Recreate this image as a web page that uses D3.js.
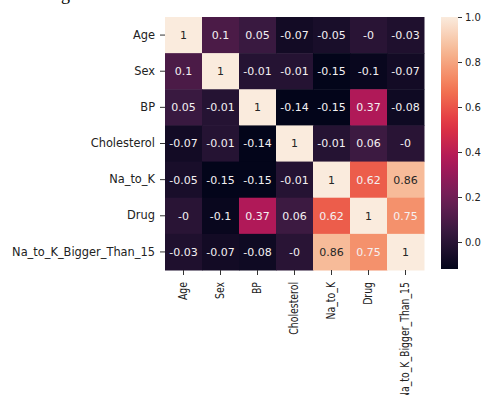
<style>body { margin: 0; }</style>
<script src="https://d3js.org/d3.v7.min.js"></script>
<svg width="486" height="395" style="display:block"></svg>
<script>
  // correlation matrix
  var labels = ["Age", "Sex", "BP", "Cholesterol", "Na_to_K", "Drug", "Na_to_K_Bigger_Than_15"];
  var rowAge = [1, 0.1, 0.05, -0.07, -0.05, -0, -0.03];
  var rowSex = [0.1, 1, -0.01, -0.01, -0.15, -0.1, -0.07];
  var rowBP = [0.05, -0.01, 1, -0.14, -0.15, 0.37, -0.08];
  var rowCholesterol = [-0.07, -0.01, -0.14, 1, -0.01, 0.06, -0];
  var rowNaToK = [-0.05, -0.15, -0.15, -0.01, 1, 0.62, 0.86];
  var rowDrug = [-0, -0.1, 0.37, 0.06, 0.62, 1, 0.75];
  var rowBigger = [-0.03, -0.07, -0.08, -0, 0.86, 0.75, 1];
  var rows = [rowAge, rowSex, rowBP, rowCholesterol, rowNaToK, rowDrug, rowBigger];
  var cbarTicks = [0, 0.2, 0.4, 0.6, 0.8, 1.0];
  var vmin = -0.12, vmax = 1;

  // seaborn "rocket" sampled
  var rocket = ["#03051a", "#35193e", "#701f57", "#ad1759", "#e13342", "#f37651", "#f6b48f", "#faebdd"];

  var svg = d3.select("svg");
  svg.append("rect").attr("width", 486).attr("height", 395).attr("fill", "#fff");

  // fragment of a caption line cut off at the top of the screenshot
  svg.append("text")
    .attr("x", 61).attr("y", 0)
    .style("font", "18px 'Liberation Serif'")
    .text("g");

  var font = "'DejaVu Sans', sans-serif";
  var cells = [];
  rows.forEach(function (r, i) {
    r.forEach(function (v, j) {
      cells.push({ row: labels[i], col: labels[j], value: v });
    });
  });

  var x = d3.scaleBand().domain(labels).range([165, 424]);
  var y = d3.scaleBand().domain(labels).range([17, 270]);
  var color = d3.scaleSequential(d3.piecewise(d3.interpolateRgb, rocket)).domain([vmin, vmax]).clamp(true);

  function fmt(v) {
    return Object.is(v, -0) ? "-0" : String(v);
  }
  function luminance(c) {
    var rgb = d3.rgb(c);
    var lin = [rgb.r, rgb.g, rgb.b].map(function (u) {
      u = u / 255;
      return u <= 0.03928 ? u / 12.92 : Math.pow((u + 0.055) / 1.055, 2.4);
    });
    return 0.2126 * lin[0] + 0.7152 * lin[1] + 0.0722 * lin[2];
  }

  var cell = svg.selectAll(".cell").data(cells).enter().append("g").attr("class", "cell");

  cell.append("rect")
    .attr("x", function (d) { return x(d.col); })
    .attr("y", function (d) { return y(d.row); })
    .attr("width", x.bandwidth() + 0.5)
    .attr("height", y.bandwidth() + 0.5)
    .attr("fill", function (d) { return color(d.value); });

  cell.append("text")
    .attr("x", function (d) { return x(d.col) + x.bandwidth() / 2; })
    .attr("y", function (d) { return y(d.row) + y.bandwidth() / 2; })
    .attr("dy", "0.36em")
    .attr("text-anchor", "middle")
    .style("font-family", font)
    .style("font-size", "11px")
    .attr("fill", function (d) { return luminance(color(d.value)) > 0.408 ? "#262626" : "#f4f0f2"; })
    .text(function (d) { return fmt(d.value); });

  // y axis labels
  var yAxis = svg.append("g")
    .attr("transform", "translate(165,0)")
    .call(d3.axisLeft(y).tickSize(5).tickPadding(5));
  yAxis.select(".domain").remove();
  yAxis.selectAll("line").attr("stroke", "#333");
  yAxis.selectAll("text")
    .attr("fill", "#222")
    .style("font-family", font)
    .style("font-size", "11.4px");

  // x axis labels, rotated
  var xAxis = svg.append("g")
    .attr("transform", "translate(0,270)")
    .call(d3.axisBottom(x).tickSize(5));
  xAxis.select(".domain").remove();
  xAxis.selectAll("line").attr("stroke", "#333");
  xAxis.selectAll("text")
    .attr("fill", "#222")
    .attr("text-anchor", "end")
    .attr("y", 0)
    .attr("dy", "0.35em")
    .attr("transform", "translate(0,12) rotate(-90) scale(0.82,1)")
    .style("font-family", font)
    .style("font-size", "11.4px");

  // colorbar
  var cb = d3.scaleLinear().domain([vmin, vmax]).range([269, 17]);
  var defs = svg.append("defs");
  var grad = defs.append("linearGradient")
    .attr("id", "cbar")
    .attr("x1", 0).attr("y1", 1).attr("x2", 0).attr("y2", 0);
  d3.range(0, 1.0001, 0.05).forEach(function (t) {
    grad.append("stop")
      .attr("offset", t)
      .attr("stop-color", color(vmin + t * (vmax - vmin)));
  });
  svg.append("rect")
    .attr("x", 441).attr("y", cb(vmax))
    .attr("width", 17).attr("height", cb(vmin) - cb(vmax))
    .attr("fill", "url(#cbar)");

  var cAxis = svg.append("g")
    .attr("transform", "translate(458,0)")
    .call(d3.axisRight(cb).tickValues(cbarTicks).tickFormat(d3.format(".1f")).tickSize(4).tickPadding(3));
  cAxis.select(".domain").remove();
  cAxis.selectAll("line").attr("stroke", "#333");
  cAxis.selectAll("text")
    .attr("fill", "#222")
    .style("font-family", font)
    .style("font-size", "10px");
</script>
